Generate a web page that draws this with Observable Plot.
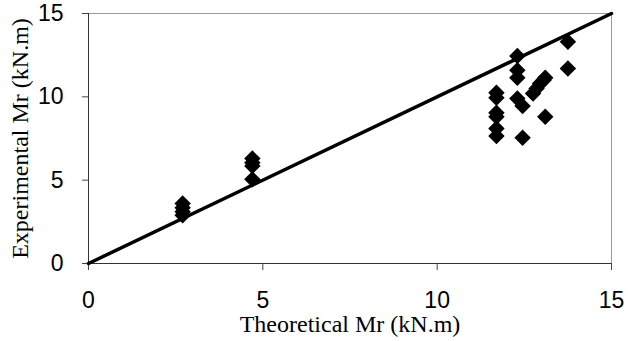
<!DOCTYPE html>
<html>
<head>
<meta charset="utf-8">
<script src="https://cdn.jsdelivr.net/npm/d3@7"></script>
<script src="https://cdn.jsdelivr.net/npm/@observablehq/plot@0.6"></script>
<style>
  html, body { margin: 0; padding: 0; background: white; }
</style>
</head>
<body>
<div id="chart"></div>
<script>
const theoretical = [2.7, 2.7, 2.7, 2.7,
  4.7, 4.7, 4.7, 4.7,
  11.7, 11.7, 11.7, 11.7, 11.7, 11.7,
  12.3, 12.3, 12.3, 12.3, 12.45, 12.45,
  12.75, 12.85, 12.95, 13.05, 13.1, 13.1,
  13.75, 13.75];
const experimental = [3.6, 3.35, 3.1, 2.9,
  6.3, 6.05, 5.85, 5.05,
  10.25, 9.95, 9.05, 8.8, 8.1, 7.65,
  12.45, 11.6, 11.15, 9.9, 9.45, 7.55,
  10.2, 10.5, 10.8, 11.0, 11.15, 8.8,
  13.3, 11.7];
const xTicks = [0, 5, 10, 15];
const yTicks = [0, 5, 10, 15];
const refLine = [0, 15];
const xLabel = "Theoretical Mr (kN.m)";
const yLabel = "Experimental Mr (kN.m)";

const points = theoretical.map((t, i) => ({t, e: experimental[i]}));

const chart = Plot.plot({
  width: 628,
  height: 341,
  marginLeft: 88,
  marginRight: 17,
  marginTop: 13,
  marginBottom: 78,
  style: {background: "white", color: "black"},
  x: {domain: [0, 15]},
  y: {domain: [0, 15]},
  marks: [
    Plot.ruleY([15], {stroke: "#999", strokeWidth: 1}),
    Plot.ruleX([15], {stroke: "#999", strokeWidth: 1}),
    Plot.axisX({ticks: xTicks, tickSize: 7, tickPadding: 21, fontSize: 23, fontFamily: "Liberation Sans", label: null, stroke: "#444"}),
    Plot.axisY({ticks: yTicks, tickSize: 6, tickPadding: 19, fontSize: 23, fontFamily: "Liberation Sans", label: null, stroke: "#444"}),
    Plot.ruleX([0], {stroke: "#333"}),
    Plot.ruleY([0], {stroke: "#333"}),
    Plot.line(refLine, {x: d => d, y: d => d, stroke: "black", strokeWidth: 3.5}),
    Plot.dot(points, {x: "t", y: "e", symbol: "diamond2", r: 7.4, fill: "black", stroke: "none"}),
    Plot.text([xLabel], {frameAnchor: "bottom", dy: 61, lineAnchor: "middle", textAnchor: "middle", fontSize: 24, fontFamily: "Liberation Serif", fill: "black"}),
    Plot.text([yLabel], {frameAnchor: "left", dx: -68, rotate: -90, lineAnchor: "middle", textAnchor: "middle", fontSize: 24, fontFamily: "Liberation Serif", fill: "black"})
  ]
});
document.getElementById("chart").appendChild(chart);
</script>
</body>
</html>
